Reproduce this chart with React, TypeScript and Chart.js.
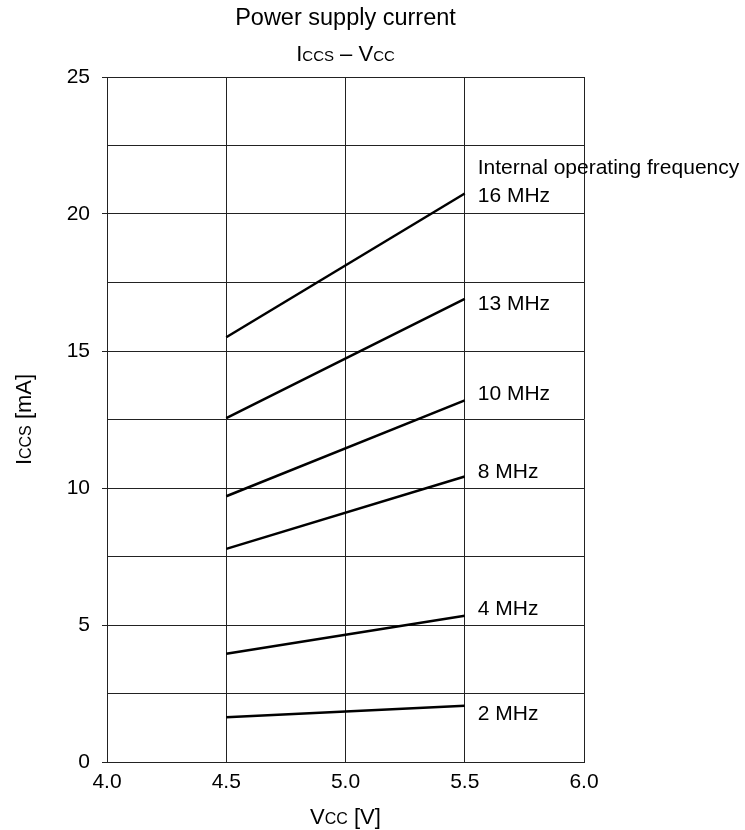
import { useEffect, useRef } from 'react';
import { Chart, registerables } from 'chart.js';

Chart.register(...registerables);

// ---- data ----
const voltages = [4.5, 5.5];
const freqLabels = ['16 MHz', '13 MHz', '10 MHz', '8 MHz', '4 MHz', '2 MHz'];
const current16MHz = [15.5, 20.75];
const current13MHz = [12.55, 16.9];
const current10MHz = [9.7, 13.2];
const current8MHz = [7.78, 10.42];
const current4MHz = [3.95, 5.34];
const current2MHz = [1.63, 2.05];
const seriesValues = [current16MHz, current13MHz, current10MHz, current8MHz, current4MHz, current2MHz];
const labelYValues = [20.65, 16.72, 13.43, 10.58, 5.56, 1.75];
const headerText = 'Internal operating frequency';
const headerYValue = 21.67;
const xTickValues = [4.0, 4.5, 5.0, 5.5, 6.0];
const yLabelValues = [0, 5, 10, 15, 20, 25];

const FONT = '"Liberation Sans", Arial, Helvetica, sans-serif';

type Part = { t: string; s: number };

function drawParts(ctx: CanvasRenderingContext2D, parts: Part[], x: number, y: number) {
  let total = 0;
  for (const p of parts) {
    ctx.font = `${p.s}px ${FONT}`;
    total += ctx.measureText(p.t).width;
  }
  let cx = x - total / 2;
  ctx.textAlign = 'left';
  ctx.textBaseline = 'alphabetic';
  for (const p of parts) {
    ctx.font = `${p.s}px ${FONT}`;
    ctx.fillText(p.t, cx, y);
    cx += ctx.measureText(p.t).width;
  }
}

const textPlugin = {
  id: 'textPlugin',
  afterDraw(chart: any) {
    const ctx: CanvasRenderingContext2D = chart.ctx;
    const xs = chart.scales.x;
    const ys = chart.scales.y;
    const area = chart.chartArea;
    const cx = (area.left + area.right) / 2;
    ctx.save();
    ctx.fillStyle = '#000';
    // title
    drawParts(ctx, [{ t: 'Power supply current', s: 23.5 }], cx, 25);
    drawParts(
      ctx,
      [
        { t: 'I', s: 22 },
        { t: 'CCS', s: 15 },
        { t: ' \u2013 V', s: 22 },
        { t: 'CC', s: 15 },
      ],
      cx,
      61
    );
    // x axis title
    drawParts(ctx, [{ t: 'V', s: 22 }, { t: 'CC', s: 16 }, { t: ' [V]', s: 22 }], cx, 824);
    // y axis title
    ctx.save();
    ctx.translate(31, (area.top + area.bottom) / 2);
    ctx.rotate(-Math.PI / 2);
    drawParts(ctx, [{ t: 'I', s: 22 }, { t: 'CCS', s: 16 }, { t: ' [mA]', s: 22 }], 0, 0);
    ctx.restore();
    // series labels
    ctx.font = `21px ${FONT}`;
    ctx.textAlign = 'left';
    ctx.textBaseline = 'middle';
    const lx = xs.getPixelForValue(voltages[voltages.length - 1]) + 13;
    ctx.fillText(headerText, lx, ys.getPixelForValue(headerYValue));
    freqLabels.forEach((lab, i) => {
      ctx.fillText(lab, lx, ys.getPixelForValue(labelYValues[i]));
    });
    ctx.restore();
  },
};

export default function App() {
  const ref = useRef<HTMLCanvasElement | null>(null);
  useEffect(() => {
    if (!ref.current) return;
    const gridColor = '#222';
    const chart = new Chart(ref.current, {
      type: 'scatter',
      data: {
        datasets: seriesValues.map((vals, i) => ({
          label: freqLabels[i],
          data: voltages.map((v, j) => ({ x: v, y: vals[j] })),
          showLine: true,
          borderColor: '#000',
          backgroundColor: '#000',
          borderWidth: 2.5,
          pointRadius: 0,
          pointHoverRadius: 0,
        })),
      },
      options: {
        animation: false,
        responsive: false,
        devicePixelRatio: 1,
        layout: { padding: { left: 0, top: 77, right: 161, bottom: 0 } },
        plugins: {
          legend: { display: false },
          tooltip: { enabled: false },
          title: { display: false },
        },
        scales: {
          x: {
            type: 'linear',
            min: 4,
            max: 6,
            afterFit: (s: any) => {
              s.height = 68;
            },
            afterBuildTicks: (s: any) => {
              s.ticks = xTickValues.map((v) => ({ value: v }));
            },
            ticks: {
              padding: 8,
              color: '#000',
              font: { family: FONT, size: 21 },
              callback: (v: any) => Number(v).toFixed(1),
              maxRotation: 0,
              autoSkip: false,
            },
            grid: { color: gridColor, lineWidth: 1, drawTicks: false },
            border: { display: true, color: gridColor, width: 1 },
          },
          y: {
            type: 'linear',
            min: 0,
            max: 25,
            afterFit: (s: any) => {
              s.width = 107;
            },
            ticks: {
              stepSize: 2.5,
              padding: 12,
              color: '#000',
              font: { family: FONT, size: 21 },
              autoSkip: false,
              callback: (v: any) => (yLabelValues.includes(Number(v)) ? String(v) : ''),
            },
            grid: {
              color: gridColor,
              lineWidth: 1,
              tickLength: 5,
              tickColor: (c: any) =>
                c.tick && yLabelValues.includes(Number(c.tick.value)) ? gridColor : 'rgba(0,0,0,0)',
            },
            border: { display: true, color: gridColor, width: 1 },
          },
        },
      },
      plugins: [textPlugin],
    });
    return () => chart.destroy();
  }, []);
  return (
    <div style={{ position: 'absolute', left: 0, top: 0, width: 745, height: 830, background: '#fff' }}>
      <canvas ref={ref} width={745} height={830} style={{ display: 'block' }} />
    </div>
  );
}
